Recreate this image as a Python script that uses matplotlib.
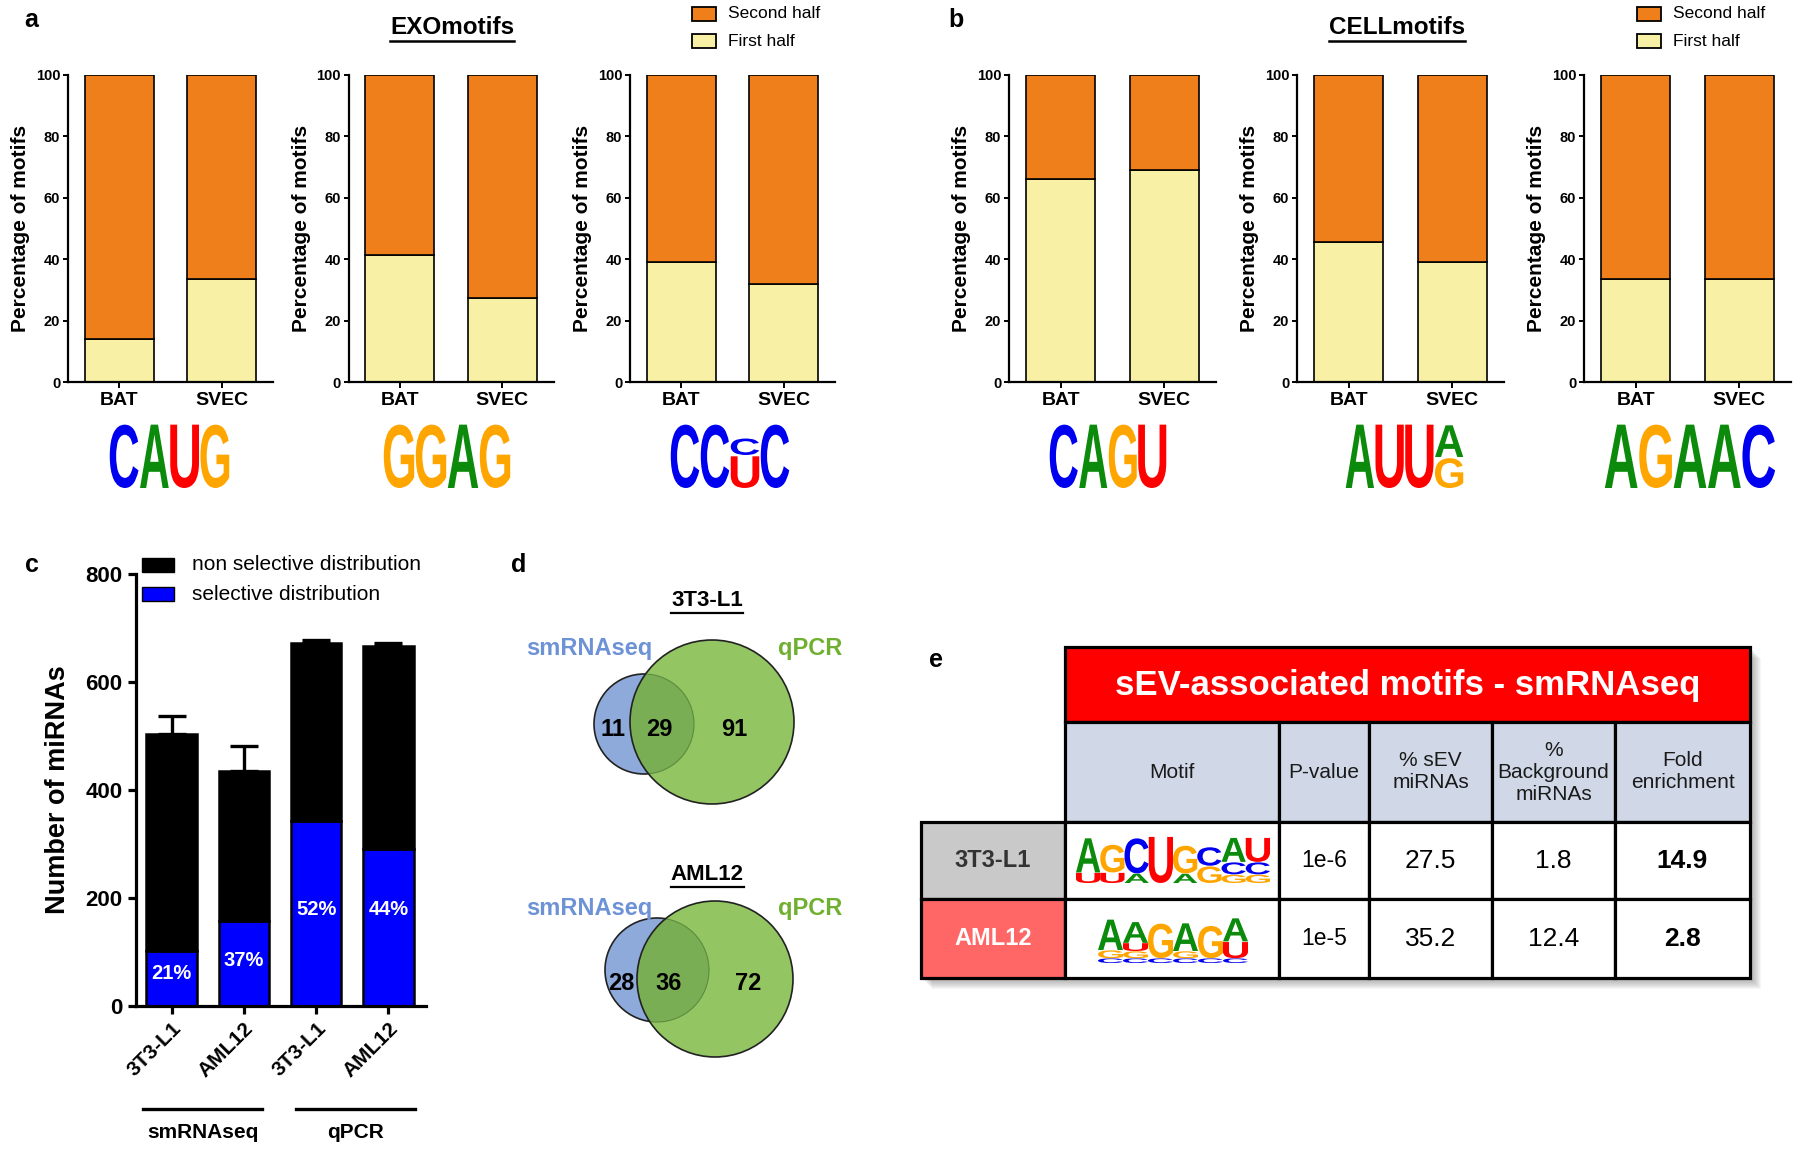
import matplotlib
matplotlib.use('Agg')
import numpy as np
import matplotlib.pyplot as plt
from matplotlib.patches import Rectangle, Circle, PathPatch, Polygon
from matplotlib.textpath import TextPath
from matplotlib.font_manager import FontProperties
from matplotlib.transforms import Affine2D, blended_transform_factory

plt.rcParams['font.family'] = ['Liberation Sans', 'DejaVu Sans']

W, H = 1800, 1149

# ---- data ----
groups = ['BAT', 'SVEC']
exo_motifs = ['CAUG', 'GGAG', 'CCUC']
exo_first = [[14, 33.5], [41.5, 27.5], [39, 32]]
cell_motifs = ['CAGU', 'AUUR', 'AGAAC']
cell_first = [[66, 69], [45.5, 39], [33.5, 33.5]]

c_labels = ['3T3-L1', 'AML12', '3T3-L1', 'AML12']
c_methods = ['smRNAseq', 'qPCR']
c_total = [503, 435, 673, 667]
c_err = [34, 47, 5, 5]
c_selective = [102, 157, 342, 290]
c_pct = ['21%', '37%', '52%', '44%']

venn_titles = ['3T3-L1', 'AML12']
venn_only_seq = [11, 28]
venn_both = [29, 36]
venn_only_qpcr = [91, 72]

table_title = 'sEV-associated motifs - smRNAseq'
table_cols = ['Motif', 'P-value', '% sEV\nmiRNAs', '%\nBackground\nmiRNAs', 'Fold\nenrichment']
table_rows = ['3T3-L1', 'AML12']
table_p = ['1e-6', '1e-5']
table_sev = [27.5, 35.2]
table_bg = [1.8, 12.4]
table_fold = [14.9, 2.8]

# sequence logos: each position = (letter, relative height) from bottom to top
logo_exo = [
    [[('C', 1)], [('A', 1)], [('U', 1)], [('G', 1)]],
    [[('G', 1)], [('G', 1)], [('A', 1)], [('G', 1)]],
    [[('C', 1)], [('C', 1)], [('U', 0.5), ('C', 0.26)], [('C', 1)]],
]
logo_cell = [
    [[('C', 1)], [('A', 1)], [('G', 1)], [('U', 1)]],
    [[('A', 1)], [('U', 1)], [('U', 1)], [('G', 0.47), ('A', 0.5)]],
    [[('A', 1)], [('G', 1)], [('A', 1)], [('A', 1)], [('C', 1)]],
]
logo_table = [
    [[('U', 0.22), ('A', 0.74)], [('U', 0.22), ('G', 0.6)], [('A', 0.2), ('C', 0.76)], [('U', 1)],
     [('A', 0.2), ('G', 0.6)], [('G', 0.36), ('C', 0.4)], [('G', 0.18), ('C', 0.26), ('A', 0.52)],
     [('G', 0.18), ('C', 0.26), ('U', 0.52)]],
    [[('C', 0.1), ('G', 0.17), ('A', 0.66)], [('C', 0.1), ('G', 0.15), ('U', 0.17), ('A', 0.45)],
     [('C', 0.1), ('G', 0.75)], [('C', 0.1), ('G', 0.15), ('A', 0.6)], [('C', 0.1), ('G', 0.7)],
     [('C', 0.1), ('U', 0.35), ('A', 0.5)]],
]

LETTER_COLORS = {'A': '#0b8a0b', 'C': '#0000f0', 'G': '#ffa500', 'U': '#ff0000'}
YELLOW, ORANGE = '#f8f0a4', '#ef7f1a'
LOGO_FP = FontProperties(family='Liberation Sans', weight='bold')


def rect(x0, y0, x1, y1):
    return [x0 / W, 1 - y1 / H, (x1 - x0) / W, (y1 - y0) / H]


fig = plt.figure(figsize=(W / 100, H / 100), dpi=100)
ov = fig.add_axes([0, 0, 1, 1])
ov.set_xlim(0, W)
ov.set_ylim(H, 0)
ov.axis('off')


def draw_letter(ch, x0, ybot, w, h):
    tp = TextPath((0, 0), ch, size=100, prop=LOGO_FP)
    bb = tp.get_extents()
    tr = Affine2D().translate(-bb.x0, -bb.y0).scale(w / bb.width, -h / bb.height).translate(x0, ybot)
    ov.add_patch(PathPatch(tr.transform_path(tp), fc=LETTER_COLORS[ch], lw=0))


def draw_logo(positions, x0, x1, ytop, ybot, gap=0.05):
    slot = (x1 - x0) / len(positions)
    full = ybot - ytop
    for i, pos in enumerate(positions):
        y = ybot
        for ch, frac in pos:
            hh = frac * full
            draw_letter(ch, x0 + i * slot + slot * gap / 2, y, slot * (1 - gap), hh * 0.96)
            y -= hh


under = []


def underlined(x, y, s, size, lw=1.8):
    t = ov.text(x, y, s, ha='center', va='center', fontsize=size, fontweight='bold')
    under.append((t, lw))
    return t


# ---- panels a and b ----
rects_a = [(68, 75, 273, 382), (348.5, 75, 553.7, 382), (630, 75, 835, 382)]
rects_b = [(1009, 75, 1216, 382), (1297, 75, 1504, 382), (1584, 75, 1791, 382)]
logo_x_a = [(109, 230), (383, 511), (670, 790)]
logo_x_b = [(1049, 1167), (1345, 1464), (1604, 1776)]


def motif_bars(r, first):
    ax = fig.add_axes(rect(*r))
    ax.set_facecolor('none')
    x = np.arange(len(groups))
    first = np.array(first)
    ax.bar(x, first, 0.67, color=YELLOW, edgecolor='black', lw=1.2)
    ax.bar(x, 100 - first, 0.67, bottom=first, color=ORANGE, edgecolor='black', lw=1.2)
    ax.set_xlim(-0.5, 1.5)
    ax.set_ylim(0, 100)
    for s in ['top', 'right']:
        ax.spines[s].set_visible(False)
    for s in ['left', 'bottom']:
        ax.spines[s].set_linewidth(1.6)
    ax.set_yticks(range(0, 101, 20))
    ax.tick_params(axis='y', labelsize=10.5, width=1.4, length=3.5, pad=2)
    ax.tick_params(axis='x', labelsize=14, width=1.4, length=4, pad=3)
    for t in ax.get_yticklabels():
        t.set_fontweight('bold')
    ax.set_xticks(x)
    ax.set_xticklabels(groups, fontweight='bold')
    ax.set_ylabel('Percentage of motifs', fontsize=15, fontweight='bold', labelpad=4)
    return ax


for r, f, (lx0, lx1), lg in zip(rects_a, exo_first, logo_x_a, logo_exo):
    motif_bars(r, f)
    draw_logo(lg, lx0, lx1, 422, 488)
for r, f, (lx0, lx1), lg in zip(rects_b, cell_first, logo_x_b, logo_cell):
    motif_bars(r, f)
    draw_logo(lg, lx0, lx1, 422, 488)

underlined(452, 28, 'EXOmotifs', 17.5)
underlined(1397, 28, 'CELLmotifs', 17.5)

for lx in [692, 1637]:
    ov.add_patch(Rectangle((lx, 7), 24, 14, fc=ORANGE, ec='black', lw=1.3))
    ov.add_patch(Rectangle((lx, 34), 24, 14, fc=YELLOW, ec='black', lw=1.3))
    ov.text(lx + 36, 14, 'Second half', va='center', fontsize=12.5)
    ov.text(lx + 36, 41, 'First half', va='center', fontsize=12.5)

for lab, (x, y) in zip('abcde', [(31, 20), (956, 20), (32, 565), (519, 565), (936, 660)]):
    ov.text(x, y, lab, ha='center', va='center', fontsize=18, fontweight='bold')

# ---- panel c ----
axc = fig.add_axes(rect(135.5, 574, 426, 1005.6))
axc.set_facecolor('none')
xc = np.arange(len(c_labels))
sel = np.array(c_selective)
tot = np.array(c_total)
axc.bar(xc, sel, 0.7, color='#0000ff', edgecolor='black', lw=1.8, label='selective distribution')
axc.bar(xc, tot - sel, 0.7, bottom=sel, color='black', edgecolor='black', lw=1.8,
        label='non selective distribution')
axc.errorbar(xc, tot, yerr=[np.zeros(len(tot)), c_err], fmt='none', ecolor='black',
             elinewidth=2.4, capsize=10, capthick=2.4)
axc.set_xlim(-0.5, 3.52)
axc.set_ylim(0, 800)
for s in ['top', 'right']:
    axc.spines[s].set_visible(False)
for s in ['left', 'bottom']:
    axc.spines[s].set_linewidth(2.3)
axc.set_yticks(range(0, 801, 200))
axc.tick_params(axis='both', width=2.3, length=6, labelsize=16)
for t in axc.get_yticklabels():
    t.set_fontweight('bold')
axc.set_xticks(xc)
axc.set_xticklabels(c_labels, rotation=45, ha='right', rotation_mode='anchor',
                    fontweight='bold', fontsize=15)
axc.set_ylabel('Number of miRNAs', fontsize=19.5, fontweight='bold', labelpad=10)
pct_label_y = [60, 83, 179, 179]
for x, p, y in zip(xc, c_pct, pct_label_y):
    axc.text(x, y, p, ha='center', va='center', color='white', fontsize=14.5, fontweight='bold')

mix = blended_transform_factory(axc.transData, ov.transData)
for (a, b), name in zip([(-0.39, 1.25), (1.72, 3.37)], c_methods):
    axc.plot([a, b], [1109, 1109], color='black', lw=2.4, transform=mix, clip_on=False)
    axc.text((a + b) / 2, 1133, name, transform=mix, ha='center', va='center',
             fontsize=15, fontweight='bold')

ov.add_patch(Rectangle((142, 558), 32, 14, fc='black', ec='black'))
ov.add_patch(Rectangle((142, 587), 32, 14, fc='#0000ff', ec='black'))
ov.text(192, 565, 'non selective distribution', va='center', fontsize=15)
ov.text(192, 594, 'selective distribution', va='center', fontsize=15)

# ---- panel d ----
BLUE_C, GREEN_C, OVER_C = '#8eaadb', '#93c562', '#7aae55'
venn_layout = [
    dict(b=(644, 724, 50), g=(712, 722, 82), ty=601, ly=649, ny=730, nx=(613, 659, 734)),
    dict(b=(657, 970, 52), g=(715, 979, 78), ty=875, ly=909, ny=983, nx=(621, 669, 748)),
]
for lay, title, n1, n2, n3 in zip(venn_layout, venn_titles, venn_only_seq, venn_both, venn_only_qpcr):
    bx, by, br = lay['b']
    gx, gy, gr = lay['g']
    ov.add_patch(Circle((bx, by), br, fc=BLUE_C, ec='#222222', lw=1.2))
    green = Circle((gx, gy), gr, fc=GREEN_C, ec='none')
    ov.add_patch(green)
    over = Circle((bx, by), br, fc=OVER_C, ec='#5c8c3e', lw=0.8)
    ov.add_patch(over)
    over.set_clip_path(green)
    ov.add_patch(Circle((gx, gy), gr, fc='none', ec='#222222', lw=1.2))
    for x, n in zip(lay['nx'], [n1, n2, n3]):
        ov.text(x, lay['ny'], str(n), ha='center', va='center', fontsize=17, fontweight='bold')
    underlined(707, lay['ty'], title, 16, lw=1.6)
    ov.text(589, lay['ly'], 'smRNAseq', ha='center', va='center', fontsize=17,
            fontweight='bold', color='#6e92d6')
    ov.text(810, lay['ly'], 'qPCR', ha='center', va='center', fontsize=17,
            fontweight='bold', color='#70b030')

# ---- panel e ----
cx = [921, 1065, 1279, 1369, 1492, 1615, 1750]
ry = [647, 722, 822, 899, 978]
outline = [(cx[1], ry[0]), (cx[6], ry[0]), (cx[6], ry[4]), (cx[0], ry[4]), (cx[0], ry[2]), (cx[1], ry[2])]
for k in range(2, 12):
    ov.add_patch(Polygon([(x + k, y + k) for x, y in outline], closed=True, fc='#555555',
                         alpha=0.05, lw=0))
LW = 2.3
ov.add_patch(Rectangle((cx[1], ry[0]), cx[6] - cx[1], ry[1] - ry[0], fc='#ff0000', ec='black', lw=LW))
ov.text((cx[1] + cx[6]) / 2, (ry[0] + ry[1]) / 2 + 1, table_title, ha='center', va='center',
        color='white', fontsize=25, fontweight='bold')
for j, col in enumerate(table_cols):
    x0, x1 = cx[j + 1], cx[j + 2]
    ov.add_patch(Rectangle((x0, ry[1]), x1 - x0, ry[2] - ry[1], fc='#d0d8e8', ec='black', lw=LW))
    ov.text((x0 + x1) / 2, (ry[1] + ry[2]) / 2, col, ha='center', va='center', fontsize=15,
            color='#1a1a1a', linespacing=1.2)
row_fill = ['#c9c9c9', '#ff6666']
row_txt = ['#333333', 'white']
for i, name in enumerate(table_rows):
    y0, y1 = ry[i + 2], ry[i + 3]
    ym = (y0 + y1) / 2
    ov.add_patch(Rectangle((cx[0], y0), cx[1] - cx[0], y1 - y0, fc=row_fill[i], ec='black', lw=LW))
    ov.text((cx[0] + cx[1]) / 2, ym, name, ha='center', va='center', fontsize=17,
            fontweight='bold', color=row_txt[i])
    for j in range(1, 6):
        ov.add_patch(Rectangle((cx[j], y0), cx[j + 1] - cx[j], y1 - y0, fc='white', ec='black', lw=LW))
    vals = [table_p[i], f'{table_sev[i]}', f'{table_bg[i]}', f'{table_fold[i]}']
    for j, v in enumerate(vals):
        ov.text((cx[j + 2] + cx[j + 3]) / 2, ym, v, ha='center', va='center',
                fontsize=16.5 if j == 0 else 19, fontweight='bold' if j == 3 else 'normal')
draw_logo(logo_table[0], 1076, 1270, 835, 883, gap=0.0)
draw_logo(logo_table[1], 1098, 1248, 915, 963, gap=0.0)

# underlines beneath titles
fig.canvas.draw()
renderer = fig.canvas.get_renderer()
inv = ov.transData.inverted()
for t, lw in under:
    bb = t.get_window_extent(renderer)
    (xa, ya), (xb, yb) = inv.transform([(bb.x0, bb.y0), (bb.x1, bb.y0)])
    ov.plot([xa, xb], [ya + 1, yb + 1], color='black', lw=lw)

fig.savefig('out.png', dpi=100)
